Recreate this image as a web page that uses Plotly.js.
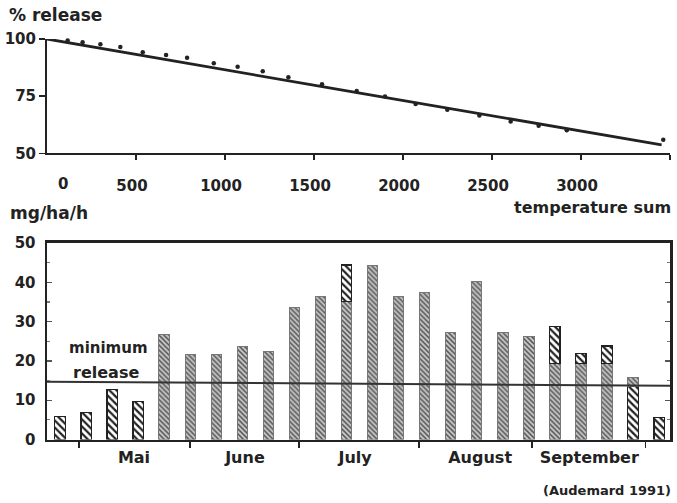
<!DOCTYPE html>
<html>
<head>
<meta charset="utf-8">
<script src="https://cdn.plot.ly/plotly-3.0.1.min.js"></script>
<style>
  html, body { margin: 0; padding: 0; background: #ffffff; }
  #chart { width: 677px; height: 503px; }
</style>
</head>
<body>
<div id="chart"></div>
<script>
// ---------- Top panel: % release vs temperature sum ----------
const tempSum = [116, 200, 300, 412, 538, 669, 787, 937, 1071, 1212, 1356, 1545, 1740, 1899, 2071, 2249, 2429, 2605, 2762, 2920, 3462];
const releasePct = [99.3, 98.6, 97.7, 96.5, 94.2, 93.0, 91.8, 89.4, 87.9, 85.9, 83.3, 80.2, 77.3, 74.8, 71.6, 69.0, 66.5, 63.9, 62.0, 60.1, 55.9];
const fitTemp = [0, 1758, 3453];
const fitPct = [100, 76.3, 53.7];
const tempTicks = [500, 1000, 1500, 2000, 2500, 3000, 3500];
const tempTickText = ['500', '1000', '1500', '2000', '2500', '3000', ''];
const pctTicks = [50, 75, 100];

// ---------- Bottom panel: weekly release mg/ha/h ----------
const weekIndex = [1,2,3,4,5,6,7,8,9,10,11,12,13,14,15,16,17,18,19,20,21,22,23,24];
const releaseLower = [5.8, 6.8, 12.8, 9.6, 26.8, 21.7, 21.7, 23.6, 22.5, 33.5, 36.5, 35.1, 44.4, 36.3, 37.4, 27.2, 40.3, 27.2, 26.1, 19.4, 19.4, 19.4, 13.6, 5.6];
const releaseUpper = [null, null, null, null, null, null, null, null, null, null, null, 9.3, null, null, null, null, null, null, null, 9.4, 2.5, 4.4, 2.2, null];
const lowerStyle = ['W','W','W','W','G','G','G','G','G','G','G','G','G','G','G','G','G','G','G','G','G','G','W','W'];
const upperStyle = ['G','G','G','G','G','G','G','G','G','G','G','W','G','G','G','G','G','G','G','W','W','W','G','G'];
const minRelease = [14.7, 13.7];
const monthNames = ['Mai', 'June', 'July', 'August', 'September'];
const monthLabelPos = [3.84, 8.10, 12.33, 17.13, 21.32];
const monthDividers = [1.73, 5.99, 10.18, 14.79, 19.13, 23.47];
const weekRange = [0.5, 24.42];

const styles = {
  W: {bg: '#ffffff', fg: '#222222', size: 5, solidity: 0.45, line: '#222222', lw: 1.3},
  G: {bg: '#c6c6c6', fg: '#505050', size: 3.5, solidity: 0.42, line: '#777777', lw: 1}
};
function pick(values, styleArr, key) {
  return values.map((v, i) => (styleArr[i] === key ? v : null));
}
function barTrace(values, styleArr, key) {
  const s = styles[key];
  return {
    type: 'bar', x: weekIndex, y: pick(values, styleArr, key),
    xaxis: 'x2', yaxis: 'y2', width: 0.4,
    marker: {
      color: s.bg,
      pattern: {shape: '\\', fillmode: 'replace', bgcolor: s.bg, fgcolor: s.fg, size: s.size, solidity: s.solidity},
      line: {color: s.line, width: s.lw}
    }
  };
}

const ink = '#222222';
const traces = [
  {type: 'scatter', mode: 'lines', x: fitTemp, y: fitPct, xaxis: 'x', yaxis: 'y',
   line: {color: ink, width: 2.8, shape: 'spline'}, hoverinfo: 'skip'},
  {type: 'scatter', mode: 'markers', x: tempSum, y: releasePct, xaxis: 'x', yaxis: 'y',
   marker: {color: ink, size: 4.5}, cliponaxis: false},
  barTrace(releaseLower, lowerStyle, 'W'),
  barTrace(releaseLower, lowerStyle, 'G'),
  barTrace(releaseUpper, upperStyle, 'W'),
  barTrace(releaseUpper, upperStyle, 'G'),
  {type: 'scatter', mode: 'lines', x: weekRange, y: minRelease, xaxis: 'x2', yaxis: 'y2',
   line: {color: '#333', width: 2}, hoverinfo: 'skip'}
];

const layout = {
  width: 677, height: 503,
  margin: {l: 47, r: 7, t: 0, b: 0},
  paper_bgcolor: '#ffffff', plot_bgcolor: '#ffffff',
  showlegend: false,
  barmode: 'stack',
  font: {family: 'DejaVu Sans', size: 15, color: ink, weight: 'bold'},
  xaxis: {
    domain: [0, 1], anchor: 'y', range: [0, 3500],
    tickmode: 'array', tickvals: tempTicks, ticktext: tempTickText,
    ticks: 'outside', ticklen: 5, tickwidth: 1.5, tickcolor: ink,
    showline: true, linewidth: 2, linecolor: ink,
    showgrid: false, zeroline: false,
    ticklabelshift: -4, ticklabelstandoff: 13,
    tickfont: {size: 15}
  },
  yaxis: {
    domain: [0.6952, 0.9225], anchor: 'x', range: [50, 100],
    tickmode: 'array', tickvals: pctTicks,
    ticks: 'outside', ticklen: 6, tickwidth: 1.5, tickcolor: ink,
    showline: true, linewidth: 2, linecolor: ink,
    showgrid: false, zeroline: false,
    tickfont: {size: 15}
  },
  xaxis2: {
    domain: [0, 1], anchor: 'y2', range: weekRange,
    tickmode: 'array', tickvals: monthLabelPos, ticktext: monthNames,
    ticks: '', ticklabelstandoff: 2,
    showline: true, linewidth: 2.5, linecolor: ink, mirror: true,
    showgrid: false, zeroline: false,
    tickfont: {size: 16},
    minor: {tickmode: 'array', tickvals: monthDividers, ticks: 'outside', ticklen: 6, tickwidth: 1.5, tickcolor: ink, showgrid: false}
  },
  yaxis2: {
    domain: [0.1262, 0.5169], anchor: 'x2', range: [0, 50],
    tickmode: 'linear', tick0: 0, dtick: 10,
    ticks: 'inside', ticklen: 5, tickwidth: 1.2, tickcolor: '#555',
    showline: true, linewidth: 2.5, linecolor: ink, mirror: 'ticks',
    showgrid: false, zeroline: false,
    ticklabelstandoff: 6,
    tickfont: {size: 15},
    minor: {dtick: 5, ticks: 'inside', ticklen: 3, tickcolor: '#777', showgrid: false}
  },
  annotations: [
    {text: '% release', xref: 'paper', yref: 'paper', x: -0.0642, y: 0.970, xanchor: 'left', yanchor: 'middle', showarrow: false, font: {size: 17}},
    {text: '0', xref: 'x', yref: 'paper', x: 0, xshift: 16, y: 1 - 184/503, xanchor: 'center', yanchor: 'middle', showarrow: false, font: {size: 15}},
    {text: 'temperature sum', xref: 'paper', yref: 'paper', x: 1.005, y: 1 - 208/503, xanchor: 'right', yanchor: 'middle', showarrow: false, font: {size: 16}},
    {text: 'mg/ha/h', xref: 'paper', yref: 'paper', x: -0.0626, y: 1 - 213/503, xanchor: 'left', yanchor: 'middle', showarrow: false, font: {size: 17}},
    {text: 'minimum', xref: 'paper', yref: 'paper', x: (108 - 47) / 623, y: 1 - 348/503, xanchor: 'center', yanchor: 'middle', showarrow: false, font: {size: 15}},
    {text: 'release', xref: 'paper', yref: 'paper', x: (106 - 47) / 623, y: 1 - 372/503, xanchor: 'center', yanchor: 'middle', showarrow: false, font: {size: 16}},
    {text: '(Audemard 1991)', xref: 'paper', yref: 'paper', x: 1.0048, y: 1 - 490/503, xanchor: 'right', yanchor: 'middle', showarrow: false, font: {size: 13}}
  ]
};

Plotly.newPlot('chart', traces, layout, {displayModeBar: false, staticPlot: true});
</script>
</body>
</html>
